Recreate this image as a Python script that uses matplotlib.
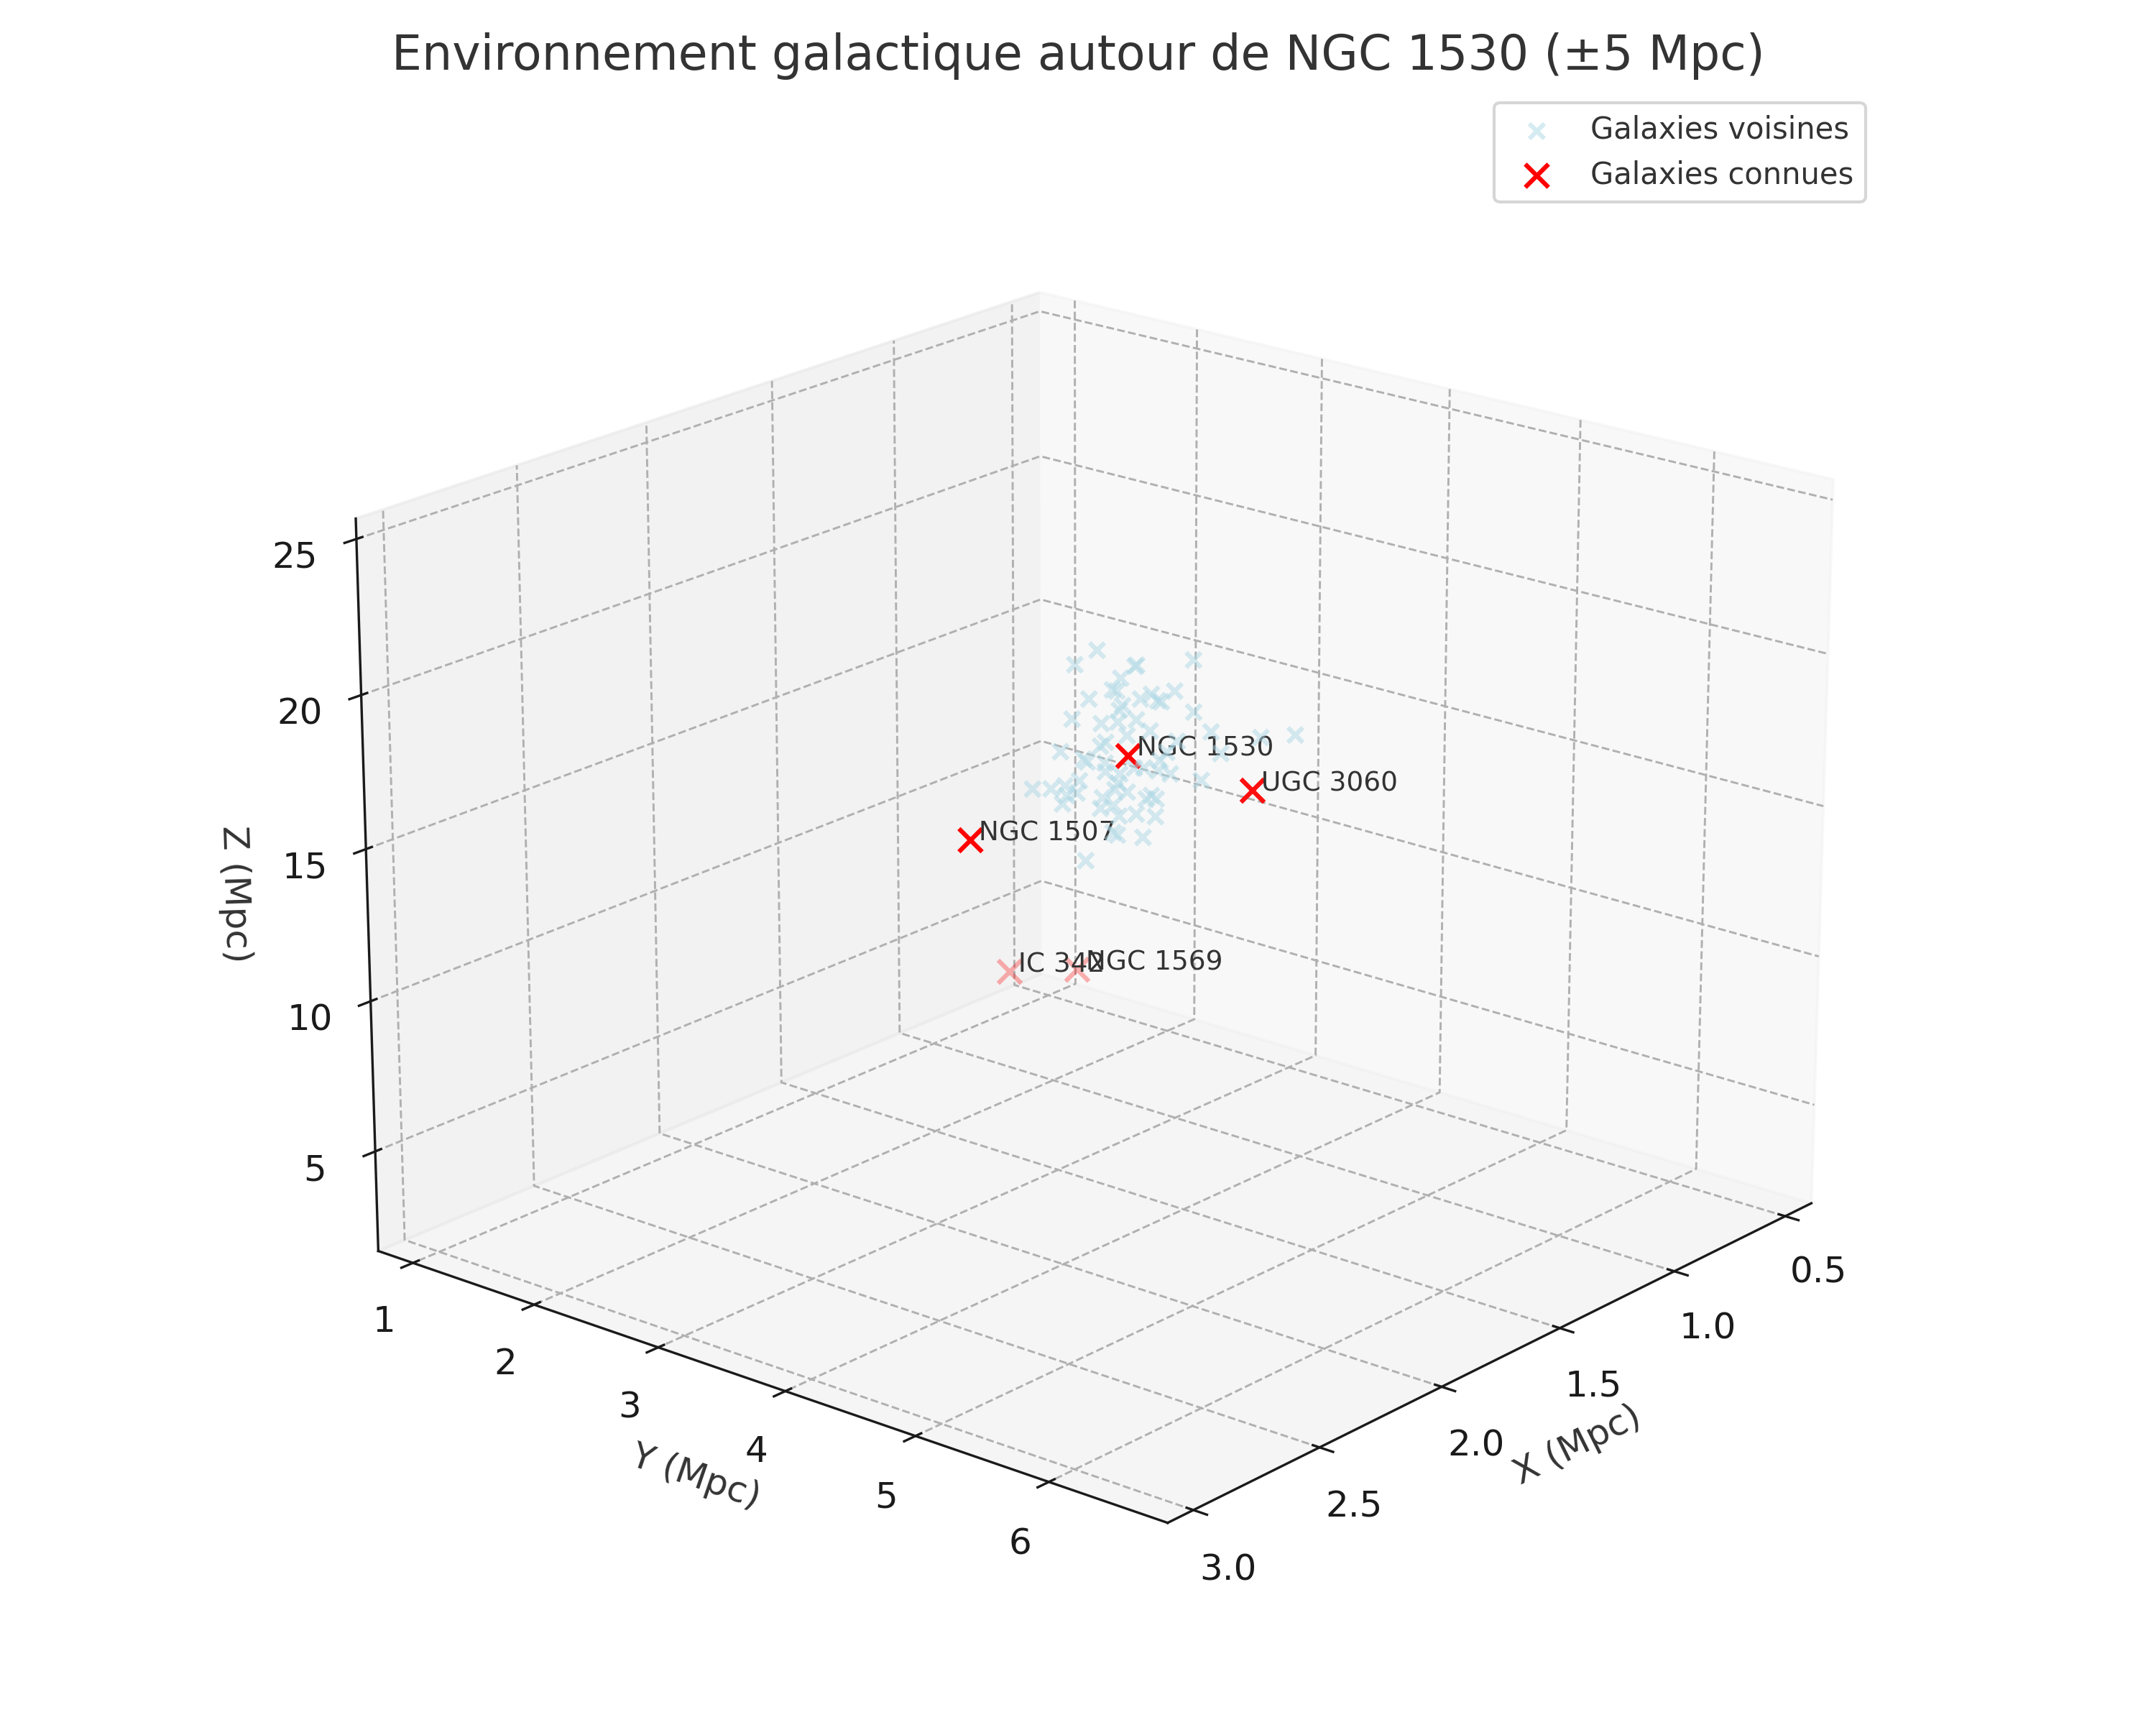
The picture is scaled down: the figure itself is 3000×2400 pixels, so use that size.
import numpy as np
import matplotlib
matplotlib.use('Agg')
import matplotlib.pyplot as plt

plt.rcParams['axes.edgecolor'] = '#1a1a1a'
plt.rcParams['xtick.color'] = '#1a1a1a'
plt.rcParams['ytick.color'] = '#1a1a1a'

# galaxies connues
known_names = ['NGC 1530', 'UGC 3060', 'NGC 1507', 'IC 342', 'NGC 1569']
known_x = [2.49, 2.2, 2.85, 0.68, 0.54]
known_y = [5.426, 5.8, 4.95, 1.02, 1.321]
known_z = [21.61, 20.05, 19.58, 3.13, 3.11]

# galaxies voisines (Mpc)
near_x = [2.45,2.62,2.35,2.55,2.7,2.4,2.58,2.5,2.66,2.3,
          2.45,2.62,2.35,2.55,2.7,2.4,2.58,2.5,2.66,2.3,
          2.45,2.62,2.35,2.55,2.7,2.4,2.58,2.5,2.66,2.3,
          2.45,2.62,2.35,2.55,2.7,2.4,2.58,2.5,2.66,2.3,
          2.45,2.62,2.35,2.55,2.7,2.4,2.58,2.5,2.66,2.3,
          2.45,2.62,2.35,2.55,2.7,2.4,2.58,2.5,2.66,2.3,
          2.45,2.62,2.35,2.55,2.7,2.4]
near_y = [5.12,5.28,5.64,5.60,5.87,5.20,5.48,5.36,5.46,5.41,5.52,5.76,5.38,5.78,5.78,5.19,6.07,5.03,5.55,4.99,5.41,5.83,5.77,5.53,6.77,6.47,5.43,5.24,6.10,4.56,5.02,5.37,4.99,6.21,6.10,5.49,5.64,5.56,5.58,5.29,5.66,5.61,5.70,5.18,5.12,4.68,5.13,5.37,5.65,5.06,4.97,5.22,4.67,5.35,5.99,5.39,5.80,5.24,5.64,5.00,5.41,5.87,5.05,5.46,5.93,4.94]
near_z = [24.42,24.67,24.40,24.80,25.53,23.49,24.00,23.58,23.94,23.02,23.51,24.16,22.84,23.88,24.23,22.48,23.99,22.33,23.29,21.57,22.59,23.26,22.32,22.55,24.40,23.19,22.32,21.73,23.38,20.14,20.91,21.77,20.44,22.79,23.17,21.26,21.77,21.43,21.84,20.39,21.20,21.68,20.73,20.74,20.89,19.42,20.62,20.73,21.37,19.45,19.79,20.55,18.77,20.41,21.72,19.94,21.00,19.79,20.88,18.62,19.65,20.67,18.32,19.38,20.36,17.46]

fig = plt.figure(figsize=(10, 8), dpi=300)
ax = fig.add_subplot(111, projection='3d')
ax.scatter(near_x, near_y, near_z, c='lightblue', marker='x', s=25, alpha=0.5, label='Galaxies voisines')
ax.scatter(known_x, known_y, known_z, c='red', marker='x', s=60, label='Galaxies connues')
for n, x, y, z in zip(known_names, known_x, known_y, known_z):
    ax.text(x, y, z, ' ' + n, fontsize=9, color='#333333')
ax.set_xlim(0.38, 3.10)
ax.set_ylim(0.71, 6.87)
ax.set_zlim(1.65, 25.65)
ax.set_xlabel('X (Mpc)', fontsize=12, color='#333333')
ax.set_ylabel('Y (Mpc)', fontsize=12, color='#333333')
ax.set_zlabel('Z (Mpc)', fontsize=12, color='#333333')
ax.tick_params(labelsize=12)
ax.set_title('Environnement galactique autour de NGC 1530 (±5 Mpc)', fontsize=16, color='#333333')
ax.view_init(elev=20, azim=40)
for a in (ax.xaxis, ax.yaxis, ax.zaxis):
    a._axinfo['grid'].update(linestyle='--', color='#b0b0b0', linewidth=0.7)
ax.legend(loc='upper right', fontsize=10, labelcolor='#333333')
fig.tight_layout()
fig.savefig('out.png')
